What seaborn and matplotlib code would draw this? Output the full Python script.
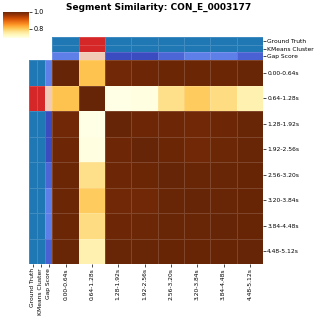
import matplotlib
matplotlib.use('Agg')
import matplotlib.pyplot as plt
import matplotlib.colors as mcolors
import seaborn as sns
import pandas as pd

# segment labels (0.64 s windows)
segments = ['0.00-0.64s', '0.64-1.28s', '1.28-1.92s', '1.92-2.56s',
            '2.56-3.20s', '3.20-3.84s', '3.84-4.48s', '4.48-5.12s']

# pairwise similarity between segments
similarity = [
    [1.000, 0.810, 0.992, 0.993, 0.996, 0.996, 0.996, 0.997],
    [0.810, 1.000, 0.695, 0.700, 0.775, 0.800, 0.780, 0.745],
    [0.992, 0.695, 1.000, 0.994, 0.994, 0.991, 0.994, 0.997],
    [0.993, 0.700, 0.994, 1.000, 0.996, 0.991, 0.995, 0.997],
    [0.996, 0.775, 0.994, 0.996, 1.000, 0.997, 0.997, 0.998],
    [0.996, 0.800, 0.991, 0.991, 0.997, 1.000, 0.997, 0.998],
    [0.996, 0.780, 0.994, 0.995, 0.997, 0.997, 1.000, 0.998],
    [0.997, 0.745, 0.997, 0.997, 0.998, 0.998, 0.998, 1.000],
]

ground_truth = [0, 1, 0, 0, 0, 0, 0, 0]
kmeans_cluster = [0, 1, 0, 0, 0, 0, 0, 0]
gap_scores = [0.12, 0.60, 0.00, 0.00, 0.06, 0.12, 0.12, 0.05]

label_colors = {0: '#1f77b4', 1: '#d62728'}
gap_cmap = plt.get_cmap('coolwarm')

side_colors = pd.DataFrame({
    'Ground Truth': [label_colors[v] for v in ground_truth],
    'KMeans Cluster': [label_colors[v] for v in kmeans_cluster],
    'Gap Score': [mcolors.to_hex(gap_cmap(v)) for v in gap_scores],
}, index=segments)

df = pd.DataFrame(similarity, index=segments, columns=segments)

g = sns.clustermap(
    df,
    row_cluster=False,
    col_cluster=False,
    row_colors=side_colors,
    col_colors=side_colors,
    cmap='YlOrBr',
    linewidths=0.5,
    linecolor=(1, 1, 1, 0.15),
    xticklabels=True,
    yticklabels=True,
    figsize=(3.17, 3.18),
    cbar_kws={'ticks': [0.8, 1.0]},
)

g.ax_row_dendrogram.set_visible(False)
g.ax_col_dendrogram.set_visible(False)

# place the pieces like the reference
g.ax_heatmap.set_position([0.1656, 0.1698, 0.664, 0.6415])
g.ax_row_colors.set_position([0.0915, 0.1698, 0.0741, 0.6415])
g.ax_col_colors.set_position([0.1656, 0.8113, 0.664, 0.0723])
g.ax_cbar.set_position([0.0085, 0.8805, 0.084, 0.0827])

for ax in [g.ax_heatmap, g.ax_row_colors, g.ax_col_colors]:
    ax.tick_params(labelsize=4.3, length=2, width=0.5, pad=1)
    ax.set_xlabel('')
    ax.set_ylabel('')
plt.setp(g.ax_heatmap.get_xticklabels(), rotation=90)
plt.setp(g.ax_heatmap.get_yticklabels(), rotation=0)
g.ax_cbar.tick_params(labelsize=4.7, length=2, width=0.5, pad=1)

g.fig.suptitle('Segment Similarity: CON_E_0003177', fontsize=6.5,
               fontweight='bold', y=0.978, va='center')

g.fig.savefig('out.png', dpi=100)
